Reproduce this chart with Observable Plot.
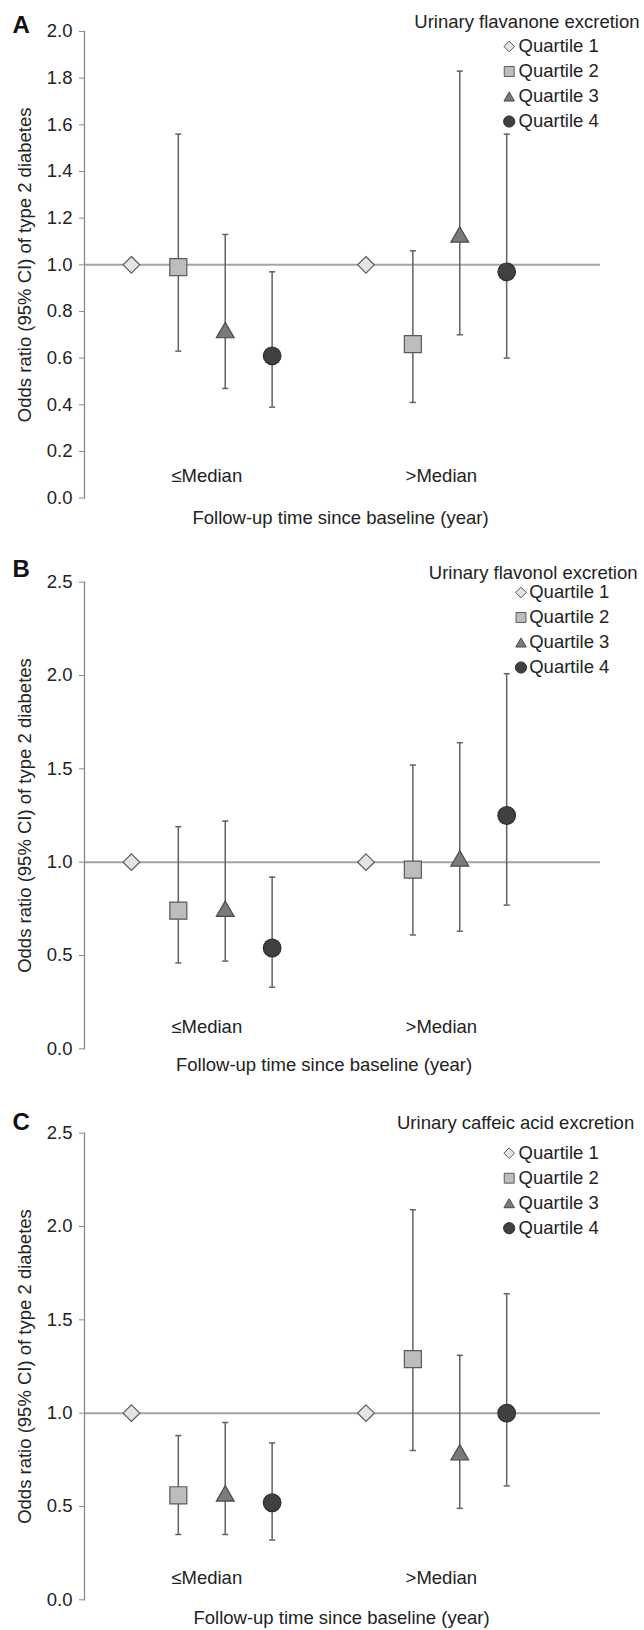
<!DOCTYPE html>
<html><head><meta charset="utf-8">
<script src="https://cdn.jsdelivr.net/npm/d3@7"></script>
<script src="https://cdn.jsdelivr.net/npm/@observablehq/plot@0.6"></script>
<style>
body{margin:0;background:#fff;}
#chart svg{display:block;}
</style></head><body><div id="chart"></div>
<script>
// ---- data ----
const groups = ["≤Median", ">Median"];
const quartiles = ["Quartile 1", "Quartile 2", "Quartile 3", "Quartile 4"];
const panelLetters = ["A", "B", "C"];
const panelTitles = ["Urinary flavanone excretion", "Urinary flavonol excretion", "Urinary caffeic acid excretion"];
const xLabel = "Follow-up time since baseline (year)";
const yLabel = "Odds ratio (95% CI) of type 2 diabetes";
const yTicksA = [0, 0.2, 0.4, 0.6, 0.8, 1.0, 1.2, 1.4, 1.6, 1.8, 2.0];
const yTicksBC = [0, 0.5, 1.0, 1.5, 2.0, 2.5];
// order: ≤Median Q1..Q4, >Median Q1..Q4
const flavanoneOR = [1.00, 0.99, 0.72, 0.61, 1.00, 0.66, 1.13, 0.97];
const flavanoneLo = [null, 0.63, 0.47, 0.39, null, 0.41, 0.70, 0.60];
const flavanoneHi = [null, 1.56, 1.13, 0.97, null, 1.06, 1.83, 1.56];
const flavonolOR = [1.00, 0.74, 0.75, 0.54, 1.00, 0.96, 1.02, 1.25];
const flavonolLo = [null, 0.46, 0.47, 0.33, null, 0.61, 0.63, 0.77];
const flavonolHi = [null, 1.19, 1.22, 0.92, null, 1.52, 1.64, 2.01];
const caffeicOR = [1.00, 0.56, 0.57, 0.52, 1.00, 1.29, 0.79, 1.00];
const caffeicLo = [null, 0.35, 0.35, 0.32, null, 0.80, 0.49, 0.61];
const caffeicHi = [null, 0.88, 0.95, 0.84, null, 2.09, 1.31, 1.64];

// ---- styles ----
const FONT = "'Liberation Sans', Arial, Helvetica, sans-serif";
const FS = 18.5;
const symbols = ["diamond2", "square", "triangle", "circle"];
const fills = ["#e4e4e4", "#bdbdbd", "#7a7a7a", "#404040"];
const strokes = ["#5a5a5a", "#5a5a5a", "#4a4a4a", "#2e2e2e"];
const radii = [7.5, 9.6, 6.6, 8.8];
const symDy = [0, 0, 2.5, 0];
const legRadii = [4.8, 5.6, 3.9, 5.6];
const legDy = [0, 0, 1.5, 0];

const panels = [
  {or: flavanoneOR, lo: flavanoneLo, hi: flavanoneHi, ymax: 2.0, ticks: yTicksA,
   height: 540, mt: 31, mb: 42.4,
   letter: {dx: -72, dy: -6}, title: {dx: 555, dy: -9},
   leg: {mdx: 424.7, tdx: 434, dy: 15}, xl: {dx: -2, dy: 20.3}},
  {or: flavonolOR, lo: flavonolLo, hi: flavonolHi, ymax: 2.5, ticks: yTicksBC,
   height: 550, mt: 41.7, mb: 41.7,
   letter: {dx: -72, dy: -12.7}, title: {dx: 553, dy: -8.7},
   leg: {mdx: 436.5, tdx: 444.7, dy: 10.3}, xl: {dx: -18.5, dy: 16.7}},
  {or: caffeicOR, lo: caffeicLo, hi: caffeicHi, ymax: 2.5, ticks: yTicksBC,
   height: 540, mt: 42.7, mb: 30.7,
   letter: {dx: -72, dy: -11}, title: {dx: 549.7, dy: -9.7},
   leg: {mdx: 424.7, tdx: 434, dy: 20}, xl: {dx: -1, dy: 18.7}}
];

const chart = document.getElementById("chart");

panels.forEach((p, pi) => {
  const rows = p.or.map((v, i) => ({
    group: groups[Math.floor(i / 4)],
    q: i % 4,
    pos: 1 + Math.floor(i / 4) * 5 + (i % 4),
    or: v, lo: p.lo[i], hi: p.hi[i]
  }));
  const ci = rows.filter(d => d.lo != null);
  const capW = 0.065;

  const marks = [
    Plot.ruleY([1], {stroke: "#a3a3a3", strokeWidth: 2}),
    Plot.frame({anchor: "left", stroke: "#8a8a8a", strokeWidth: 1.3}),
    Plot.axisY({ticks: p.ticks, tickSize: 5, tickPadding: 7, tickFormat: d3.format(".1f"),
      fontSize: FS, label: null, stroke: "#8a8a8a", fill: "#222"}),
    Plot.ruleX(ci, {x: "pos", y1: "lo", y2: "hi", stroke: "#626262", strokeWidth: 1.5}),
    Plot.link(ci, {x1: d => d.pos - capW, x2: d => d.pos + capW, y1: "hi", y2: "hi", stroke: "#626262", strokeWidth: 1.5}),
    Plot.link(ci, {x1: d => d.pos - capW, x2: d => d.pos + capW, y1: "lo", y2: "lo", stroke: "#626262", strokeWidth: 1.5}),
    ...quartiles.map((q, k) => Plot.dot(rows.filter(d => d.q === k), {
      x: "pos", y: "or", symbol: symbols[k], r: radii[k], dy: symDy[k],
      fill: fills[k], stroke: strokes[k], strokeWidth: 1.2
    })),
    Plot.text(groups, {x: (d, i) => 2.5 + i * 5, y: () => 0, text: d => d, dx: 5, dy: -22,
      fontSize: FS, fill: "#222"}),
    Plot.text([xLabel], {frameAnchor: "bottom", text: d => d, dx: p.xl.dx, dy: p.xl.dy,
      lineAnchor: "middle", textAnchor: "middle", fontSize: FS, fill: "#222"}),
    Plot.text([yLabel], {frameAnchor: "left", text: d => d, rotate: -90, dx: -59,
      textAnchor: "middle", lineAnchor: "middle", fontSize: FS, fill: "#222"}),
    Plot.text([panelLetters[pi]], {frameAnchor: "top-left", text: d => d, dx: p.letter.dx, dy: p.letter.dy,
      textAnchor: "start", lineAnchor: "middle", fontSize: 24, fontWeight: "bold", fill: "#111"}),
    Plot.text([panelTitles[pi]], {frameAnchor: "top-left", text: d => d, dx: p.title.dx, dy: p.title.dy,
      textAnchor: "end", lineAnchor: "middle", fontSize: FS, fill: "#222"}),
    ...quartiles.map((q, k) => Plot.dot([q], {frameAnchor: "top-left", dx: p.leg.mdx, dy: p.leg.dy + 25 * k + legDy[k],
      symbol: symbols[k], r: legRadii[k], fill: fills[k], stroke: strokes[k], strokeWidth: 1})),
    ...quartiles.map((q, k) => Plot.text([q], {frameAnchor: "top-left", text: d => d, dx: p.leg.tdx, dy: p.leg.dy + 25 * k,
      textAnchor: "start", lineAnchor: "middle", fontSize: FS, fill: "#222"}))
  ];

  const svg = Plot.plot({
    width: 644,
    height: p.height,
    marginLeft: 84,
    marginRight: 44,
    marginTop: p.mt,
    marginBottom: p.mb,
    x: {domain: [0, 11], axis: null},
    y: {domain: [0, p.ymax], axis: null},
    style: {fontFamily: FONT, background: "white", color: "#222", overflow: "visible"},
    marks
  });
  chart.appendChild(svg);
});
</script>
</body></html>
